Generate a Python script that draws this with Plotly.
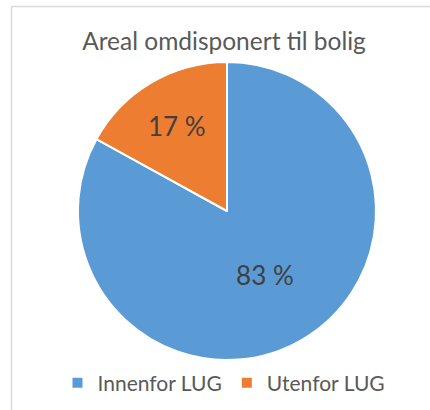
import plotly.graph_objects as go

labels = ["Innenfor LUG", "Utenfor LUG"]
values = [83, 17]
colors = ["#5B9BD5", "#ED7D31"]
title_text = "Areal omdisponert til bolig"

W, H = 430, 410
text_labels = [f"{v} %" for v in values]

fig = go.Figure(go.Pie(
    labels=labels,
    values=values,
    text=text_labels,
    textinfo="text",
    textposition="inside",
    insidetextfont=dict(size=26, color="#404040", family="Lato"),
    marker=dict(colors=colors, line=dict(color="white", width=2)),
    sort=False,
    direction="clockwise",
    rotation=0,
    domain=dict(x=[77 / W, 377 / W], y=[1 - 360 / H, 1 - 62 / H]),
    hoverinfo="label+percent",
))

def px(x):
    return x / W

def py(y):
    return 1 - y / H

fig.update_layout(
    width=W, height=H,
    margin=dict(l=0, r=0, t=0, b=0),
    paper_bgcolor="white",
    plot_bgcolor="white",
    font=dict(family="Lato", color="#595959"),
    title=dict(text=title_text, x=224 / W, xanchor="center", y=py(41), yanchor="middle",
               font=dict(size=24.5, color="#595959", family="Lato")),
    showlegend=True,
    legend=dict(orientation="h", x=224 / W, xanchor="center", y=py(383), yanchor="middle",
                font=dict(size=21, color="#595959", family="Lato"),
                itemwidth=30, traceorder="normal"),
    shapes=[
        dict(type="line", xref="paper", yref="paper", x0=px(11.5), x1=px(11.5), y0=py(6.5), y1=0,
             line=dict(color="#D9D9D9", width=1.5)),
        dict(type="line", xref="paper", yref="paper", x0=px(11.5), x1=1, y0=py(6.5), y1=py(6.5),
             line=dict(color="#D9D9D9", width=1.5)),
    ],
)

fig.write_html("out.html", config={"displayModeBar": False},
               post_script="document.body.style.margin='0';")
